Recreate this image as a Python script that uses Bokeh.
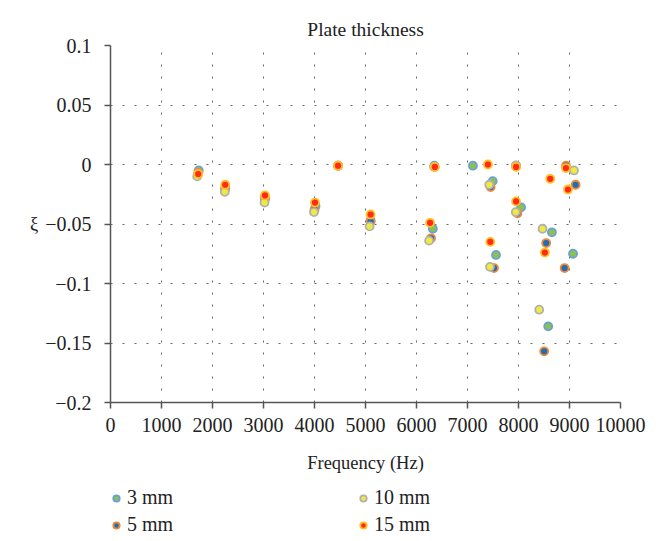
from bokeh.plotting import figure
from bokeh.layouts import column
from bokeh.models import (ColumnDataSource, FixedTicker, CustomJSTickFormatter,
                          Legend, LegendItem, Range1d)
from bokeh.embed import file_html
from bokeh.resources import INLINE

# ---- data ----
f_3mm = [1730, 2250, 3025, 4020, 4462, 5100, 6320, 6350, 7106, 7494, 7559, 7950, 8051, 8583, 8655, 9069]
xi_3mm = [-0.005, -0.020, -0.028, -0.035, -0.001, -0.047, -0.054, -0.001, -0.001, -0.014, -0.076, -0.001, -0.036, -0.136, -0.057, -0.075]

f_5mm = [1720, 2245, 3030, 4000, 4462, 5100, 6286, 6350, 7454, 7520, 7950, 7979, 8504, 8543, 8904, 8930, 9120]
xi_5mm = [-0.007, -0.021, -0.029, -0.038, -0.001, -0.048, -0.062, -0.002, -0.019, -0.087, -0.001, -0.041, -0.157, -0.066, -0.087, -0.001, -0.017]

f_10mm = [1700, 2240, 3020, 3990, 4462, 5080, 6247, 6350, 7427, 7441, 7946, 7950, 8406, 8471, 9088]
xi_10mm = [-0.010, -0.023, -0.032, -0.040, -0.001, -0.052, -0.064, -0.002, -0.017, -0.086, -0.040, -0.001, -0.122, -0.054, -0.005]

f_15mm = [1720, 2250, 3030, 4010, 4462, 5100, 6266, 6360, 7400, 7447, 7953, 7953, 8517, 8622, 8930, 8970]
xi_15mm = [-0.008, -0.017, -0.026, -0.032, -0.001, -0.042, -0.049, -0.002, 0.000, -0.065, -0.002, -0.031, -0.074, -0.012, -0.003, -0.021]

series_names = ["3 mm", "5 mm", "10 mm", "15 mm"]
fill_colors = ["#8cc152", "#1f6db5", "#eeea40", "#ff2a1a"]
edge_colors = ["#6aa0d8", "#f0883a", "#b0b0b0", "#ffbf20"]

x_ticks = [0, 1000, 2000, 3000, 4000, 5000, 6000, 7000, 8000, 9000, 10000]
y_ticks = [-0.2, -0.15, -0.1, -0.05, 0, 0.05, 0.1]
y_tick_labels = ["\u22120.2", "\u22120.15", "\u22120.1", "\u22120.05", "0", "0.05", "0.1"]

FONT = "Liberation Serif"

p = figure(width=658, height=480, output_backend="svg", toolbar_location=None,
           x_range=Range1d(0, 10000), y_range=Range1d(-0.2, 0.1),
           min_border_left=110, min_border_right=38, min_border_top=45,
           min_border_bottom=78)
p.frame_width = 510
p.frame_height = 357
p.outline_line_color = None

p.title.text = "Plate thickness"
p.title.align = "center"
p.title.vertical_align = "middle"
p.title.text_font = FONT
p.title.text_font_size = "19.5px"
p.title.text_font_style = "normal"
p.title.text_color = "#222222"
p.title.standoff = 10

p.xaxis.ticker = FixedTicker(ticks=x_ticks)
p.yaxis.ticker = FixedTicker(ticks=y_ticks)
p.yaxis.formatter = CustomJSTickFormatter(args=dict(tv=y_ticks, tl=y_tick_labels), code="""
    let best = 0;
    for (let i = 0; i < tv.length; i++) {
        if (Math.abs(tv[i] - tick) < Math.abs(tv[best] - tick)) best = i;
    }
    return tl[best];
""")

for ax in (p.xaxis[0], p.yaxis[0]):
    ax.axis_line_color = "#555555"
    ax.axis_line_width = 1.5
    ax.major_tick_line_color = "#555555"
    ax.major_tick_line_width = 1.5
    ax.major_tick_in = 0
    ax.major_tick_out = 6
    ax.minor_tick_line_color = None
    ax.major_label_text_font = FONT
    ax.major_label_text_font_size = "20px"
    ax.major_label_text_color = "#222222"
    ax.axis_label_text_font = FONT
    ax.axis_label_text_font_size = "18.5px"
    ax.axis_label_text_font_style = "normal"
    ax.axis_label_text_color = "#222222"

p.xaxis.major_label_standoff = 9
p.yaxis.major_label_standoff = 13
p.xaxis.axis_label = "Frequency (Hz)"
p.xaxis.axis_label_standoff = 18
p.yaxis.axis_label = "\u03be"
if hasattr(p.yaxis[0], "axis_label_orientation"):
    p.yaxis[0].axis_label_orientation = "horizontal"
p.yaxis.axis_label_standoff = 4

for g in (p.xgrid[0], p.ygrid[0]):
    g.grid_line_color = "#666666"
    g.grid_line_dash = "2 10"
    g.grid_line_width = 1

# legend strip below the chart
lg = figure(width=658, height=61, output_backend="svg", toolbar_location=None,
            x_range=Range1d(0, 1), y_range=Range1d(0, 1),
            x_axis_type=None, y_axis_type=None,
            min_border_left=0, min_border_right=0, min_border_top=0, min_border_bottom=0)
lg.outline_line_color = None
lg.xgrid.visible = False
lg.ygrid.visible = False

data = [(f_3mm, xi_3mm), (f_5mm, xi_5mm), (f_10mm, xi_10mm), (f_15mm, xi_15mm)]
items = []
for (fx, yv), name, fc, ec in zip(data, series_names, fill_colors, edge_colors):
    src = ColumnDataSource(dict(f=fx, xi=yv))
    p.scatter("f", "xi", source=src, size=8, fill_color=fc, line_color=ec, line_width=1.8)
    # same series in the legend strip (its points fall outside this strip's ranges)
    r = lg.scatter("f", "xi", source=src, size=8, fill_color=fc, line_color=ec, line_width=1.8)
    items.append(LegendItem(label=name, renderers=[r]))

legend = Legend(items=items, nrows=2, orientation="vertical", location=(-2, 5),
                label_text_font=FONT, label_text_font_size="20px", label_text_color="#222222",
                glyph_width=16, glyph_height=20, label_height=20, label_standoff=3, label_width=224,
                spacing=4, padding=0, margin=0, border_line_color=None,
                background_fill_alpha=0)
lg.add_layout(legend, "center")

layout = column(p, lg, spacing=0)
open("out.html", "w").write(file_html(layout, INLINE))
